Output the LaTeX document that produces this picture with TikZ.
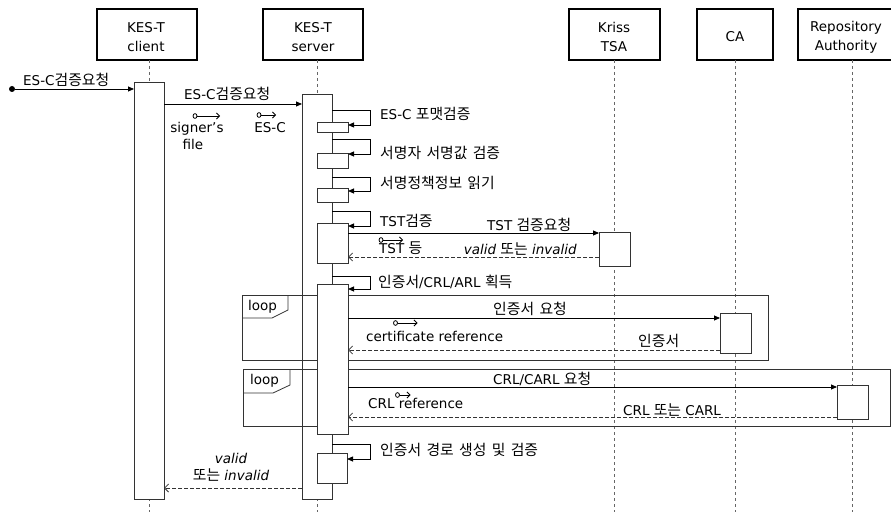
\documentclass[tikz,border=0pt]{standalone}
\usepackage{fontspec}
\setmainfont{DejaVu Sans}
\newfontfamily\kr[Scale=1.1,WordSpace=1.6]{Noto Sans CJK KR}
\usetikzlibrary{arrows.meta,fit}
\newcommand{\parico}[3]{%
  \draw[black, line width=0.8pt] (#1,#2) ellipse (2pt and 2.4pt);
  \draw[black, line width=0.8pt, -{Straight Barb[length=3pt,width=6pt]}] (#1+2,#2) -- (#1+#3,#2);}
\begin{document}
\begin{tikzpicture}[x=1pt,y=-1pt,
  font=\fontsize{13.5}{19}\selectfont,
  hdr/.style={draw=black, line width=1.6pt, fill=white, inner sep=0pt, outer sep=0pt, align=center},
  act/.style={draw=black!80, line width=0.8pt, fill=white, inner sep=0pt, outer sep=0pt},
  life/.style={draw=black!60, dash pattern=on 3pt off 3pt, line width=0.8pt},
  call/.style={draw=black, line width=0.8pt, -{Triangle[length=6pt,width=5pt]}},
  ret/.style={draw=black!80, line width=0.8pt, dash pattern=on 4pt off 2pt, -{Straight Barb[length=4pt,width=8pt]}},
  frm/.style={draw=black!80, line width=0.8pt},
  lbl/.style={inner sep=0pt, anchor=base west},
  lblc/.style={inner sep=0pt, anchor=base},
  lble/.style={inner sep=0pt, anchor=base east},
  dot/.style={circle, fill=black, inner sep=0pt, minimum size=6pt}]
\useasboundingbox (0,0) rectangle (891,513);

% header boxes
\node[hdr, fit={(97,9) (197,60)}] (hc) {};
\node[hdr, fit={(263,9) (363,60)}] (hs) {};
\node[hdr, fit={(569,9) (660,60)}] (ht) {};
\node[hdr, fit={(697,9) (773,60)}] (hca) {};
\node[hdr, fit={(798,9) (897,60)}] (hr) {};
\node[align=center, inner sep=0pt] at (146,37) {KES-T\\client};
\node[align=center, inner sep=0pt] at (313,37) {KES-T\\server};
\node[align=center, inner sep=0pt] at (614,37) {Kriss\\TSA};
\node[align=center, inner sep=0pt] at (735,37) {CA};
\node[align=center, inner sep=0pt] at (846,37) {Repository\\Authority};

% lifeline x positions
\coordinate (bot) at (0,512);
\coordinate (lc) at (149,0);
\coordinate (ls) at (317,0);
\coordinate (lt) at (614.5,0);
\coordinate (lca) at (735,0);
\coordinate (lr) at (852.5,0);

% lifelines
\draw[life] (lc |- hc.south) -- (lc |- bot);
\draw[life] (ls |- hs.south) -- (ls |- bot);
\draw[life] (lt |- ht.south) -- (lt |- bot);
\draw[life] (lca |- hca.south) -- (lca |- bot);
\draw[life] (lr |- hr.south) -- (lr |- bot);

% main activation bars
\node[act, fit={(134,82) (164,499)}] (cbar) {};
\node[act, fit={(302,94) (332,499)}] (sbar) {};
\node[act, fit={(599,232) (630,266)}] (tsa) {};
\node[act, fit={(720,313) (751,353)}] (ca) {};
\node[act, fit={(837,385) (868,419)}] (repo) {};

% loop frames
\draw[frm] (242,295) rectangle (768,360);
\draw[frm] (242,318) -- (272,318) -- (288,310) -- (288,295);
\node[lbl] at (248,310) {loop};
\draw[frm] (243,369) rectangle (890,426);
\draw[frm] (243,393) -- (273,393) -- (290,385) -- (290,369);
\node[lbl] at (250,384) {loop};

% nested activations
\node[act, fit={(317,122) (348,132)}] (n1) {};
\node[act, fit={(317,153) (348,168)}] (n2) {};
\node[act, fit={(317,188) (348,202)}] (n3) {};
\node[act, fit={(317,223) (348,263)}] (n4) {};
\node[act, fit={(317,284) (348,434)}] (n5) {};
\node[act, fit={(317,453) (347,483)}] (n6) {};

% self calls
\draw[call] (sbar.east |- 0,110) -- (370,110) |- (n1.east |- 0,125);
\draw[call] (sbar.east |- 0,139) -- (370,139) |- (n2.east |- 0,154);
\draw[call] (sbar.east |- 0,177) -- (370,177) |- (n3.east |- 0,191);
\draw[call] (sbar.east |- 0,211) -- (370,211) |- (n4.east |- 0,226);
\draw[call] (sbar.east |- 0,276) -- (370,276) |- (n5.east |- 0,289);
\draw[call] (sbar.east |- 0,444) -- (370,444) |- (n6.east |- 0,459);

% messages
\node[dot] (start) at (12,89) {};
\draw[call] (start) -- (cbar.west |- start);
\draw[call] (cbar.east |- 0,104) -- (sbar.west |- 0,104);
\draw[call] (n4.east |- 0,233) -- (tsa.west |- 0,233);
\draw[ret] (tsa.west |- 0,257) -- (n4.east |- 0,257);
\draw[call] (n5.east |- 0,318) -- (ca.west |- 0,318);
\draw[ret] (ca.west |- 0,350) -- (n5.east |- 0,350);
\draw[call] (n5.east |- 0,387) -- (repo.west |- 0,387);
\draw[ret] (repo.west |- 0,417) -- (n5.east |- 0,417);
\draw[ret] (sbar.west |- 0,488) -- (cbar.east |- 0,488);

% parameter icons
\parico{195}{116}{25}
\parico{259}{115}{17}
\parico{381}{240}{22}
\parico{395.5}{323}{22}
\parico{397.5}{395}{13}

% labels
\node[lbl] at (23,86) {ES-C{\kr 검증요청}};
\node[lbl] at (184,100) {ES-C{\kr 검증요청}};
\node[lblc] at (197,133) {signer's};
\node[lblc] at (193,150) {file};
\node[lblc] at (270,133) {ES-C};
\node[lbl] at (380,120) {ES-C {\kr 포맷검증}};
\node[lbl] at (380,159) {\kr 서명자 서명값 검증};
\node[lbl] at (380,189) {\kr 서명정책정보 읽기};
\node[lbl] at (380,226) {TST{\kr 검증}};
\node[lbl] at (487,230) {TST {\kr 검증요청}};
\node[lble] at (577,254) {\textit{valid} {\kr 또는} \textit{invalid}};
\node[lbl] at (379,253) {TST {\kr 등}};
\node[lbl] at (378,287) {{\kr 인증서}/CRL/ARL {\kr 획득}};
\node[lbl] at (493,314) {\kr 인증서 요청};
\node[lbl] at (366,341) {certificate reference};
\node[lbl] at (638,346) {\kr 인증서};
\node[lbl] at (493,384) {CRL/CARL {\kr 요청}};
\node[lbl] at (368,408) {CRL reference};
\node[lbl] at (623,415) {CRL {\kr 또는} CARL};
\node[lbl] at (380,455) {\kr 인증서 경로 생성 및 검증};
\node[lblc] at (231,463) {\textit{valid}};
\node[lblc] at (231,480) {{\kr 또는} \textit{invalid}};
\end{tikzpicture}
\end{document}
